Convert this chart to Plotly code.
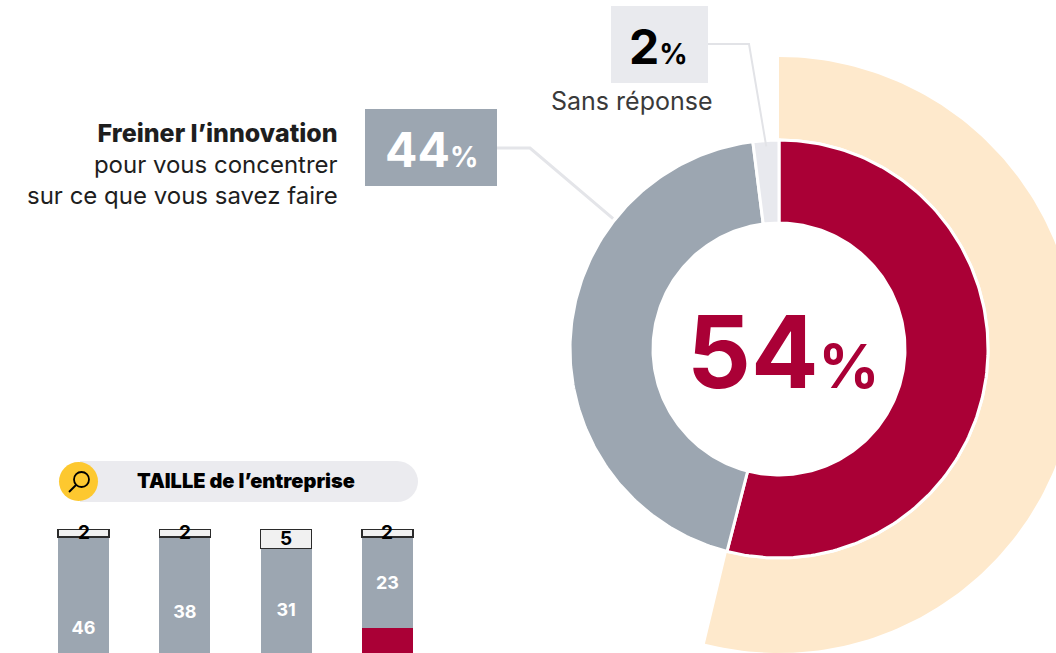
import numpy as np
import plotly.graph_objects as go

# Overall answers (percent)
answer_labels = ["Oui", "Freiner l’innovation", "Sans réponse"]
answer_values = [54, 44, 2]

# Breakdown by company size (percent, stacked bottom to top)
size_categories = ["TPE", "PME", "ETI", "GE"]
size_yes = [52, 60, 64, 75]
size_no = [46, 38, 31, 23]
size_none = [2, 2, 5, 2]

RED = "#aa0036"
GREY = "#9ca6b1"
LIGHT = "#e8e9ee"
PEACH = "#fee9cc"
FONT = "Inter, 'Open Sans', sans-serif"

# Donut geometry (canvas units = pixels)
CX, CY = 779, 349
R_HOLE, R_RING = 126, 209
R_HALO_IN, R_HALO_OUT, HALO_DY = 210.5, 298, 6


def sector(f0, f1, r_in, r_out, cy_out=CY, n=160):
    th = np.linspace(f0, f1, n) * 2 * np.pi
    xo = CX + r_out * np.sin(th)
    yo = cy_out - r_out * np.cos(th)
    xi = CX + r_in * np.sin(th[::-1])
    yi = CY - r_in * np.cos(th[::-1])
    x = np.concatenate([xo, xi, xo[:1]])
    y = np.concatenate([yo, yi, yo[:1]])
    return x, y


def polar_pt(frac, r):
    th = frac * 2 * np.pi
    return CX + r * np.sin(th), CY - r * np.cos(th)


fig = go.Figure()

# Outer highlight band for the "Oui" share
hx, hy = sector(0, answer_values[0] / 100, R_HALO_IN, R_HALO_OUT, cy_out=CY + HALO_DY)
fig.add_trace(go.Scatter(x=hx, y=hy, mode="lines", fill="toself", fillcolor=PEACH,
                         line=dict(width=0), hoverinfo="skip", showlegend=False))

# Donut slices
cum = np.concatenate([[0], np.cumsum(answer_values)]) / 100
for i, col in enumerate([RED, GREY, LIGHT]):
    sx, sy = sector(cum[i], cum[i + 1], R_HOLE, R_RING)
    fig.add_trace(go.Scatter(x=sx, y=sy, mode="lines", fill="toself", fillcolor=col,
                             line=dict(color="white", width=3), hoverinfo="skip",
                             name=answer_labels[i], showlegend=False))

# Leader lines
ex, ey = polar_pt((cum[2] + cum[3]) / 2, 203)
fig.add_trace(go.Scatter(x=[708, 749, ex], y=[44, 44, ey], mode="lines",
                         line=dict(color="#e2e3e7", width=2), hoverinfo="skip", showlegend=False))
gx, gy = polar_pt(0.856, 211)
fig.add_trace(go.Scatter(x=[497, 530, gx], y=[148, 148, gy], mode="lines",
                         line=dict(color="#e4e5e9", width=3), hoverinfo="skip", showlegend=False))

# Stacked bars by company size
fig.add_trace(go.Bar(x=size_categories, y=size_yes, marker=dict(color=RED, line=dict(width=0)),
                     xaxis="x2", yaxis="y2", textposition="none", showlegend=False))
fig.add_trace(go.Bar(x=size_categories, y=size_no, marker=dict(color=GREY, line=dict(width=0)),
                     xaxis="x2", yaxis="y2", text=size_no, textposition="inside",
                     insidetextanchor="middle", constraintext="none",
                     textfont=dict(color="white", size=18, family=FONT, weight="bold"),
                     showlegend=False))
fig.add_trace(go.Bar(x=size_categories, y=size_none,
                     marker=dict(color="#f1f1f1", line=dict(color="#2b2b2b", width=1.3)),
                     xaxis="x2", yaxis="y2", textposition="none", showlegend=False))

annotations = []
for cat, a, b, c in zip(size_categories, size_yes, size_no, size_none):
    annotations.append(dict(x=cat, y=a + b + c / 2, xref="x2", yref="y2", text=str(c),
                            showarrow=False, yanchor="middle",
                            font=dict(family=FONT, size=19, color="black", weight="bold")))

# Big centre figure
annotations.append(dict(x=CX + 4, y=CY + 2, xref="x", yref="y", showarrow=False,
                        text=f"{answer_values[0]}<span style='font-size:60px'>%</span>",
                        font=dict(family=FONT, size=100, color=RED, weight="bold"),
                        xanchor="center", yanchor="middle"))

# "Sans réponse" label box
annotations.append(dict(x=658, y=46, xref="x", yref="y", showarrow=False,
                        text=f"{answer_values[2]}<span style='font-size:28px'>%</span>",
                        font=dict(family=FONT, size=48, color="black", weight="bold"),
                        xanchor="center", yanchor="middle"))
annotations.append(dict(x=632, y=101, xref="x", yref="y", showarrow=False,
                        text="Sans réponse",
                        font=dict(family=FONT, size=25, color="#3a3a3a"),
                        xanchor="center", yanchor="middle"))

# "Freiner" label box
annotations.append(dict(x=431, y=149, xref="x", yref="y", showarrow=False,
                        text=f"{answer_values[1]}<span style='font-size:28px'>%</span>",
                        font=dict(family=FONT, size=48, color="white", weight="bold"),
                        xanchor="center", yanchor="middle"))
annotations.append(dict(x=340, y=164, xref="x", yref="y", showarrow=False, align="right",
                        text="<span style='font-size:25px;font-weight:800'>Freiner l’innovation</span>"
                             "<br>pour vous concentrer<br>sur ce que vous savez faire",
                        font=dict(family=FONT, size=24, color="#1e1e1e"),
                        xanchor="right", yanchor="middle"))

# Header pill title
annotations.append(dict(x=246, y=481, xref="x", yref="y", showarrow=False,
                        text="TAILLE de l’entreprise",
                        font=dict(family=FONT, size=20, color="black", weight=900),
                        xanchor="center", yanchor="middle"))

shapes = [
    dict(type="rect", x0=611, x1=708, y0=6, y1=83, xref="x", yref="y",
         fillcolor="#e9eaee", line=dict(width=0), layer="below"),
    dict(type="rect", x0=365, x1=497, y0=109, y1=186, xref="x", yref="y",
         fillcolor=GREY, line=dict(width=0), layer="below"),
    # pill
    dict(type="rect", x0=80, x1=397, y0=461, y1=502, xref="x", yref="y",
         fillcolor="#ebebef", line=dict(width=0), layer="below"),
    dict(type="circle", x0=376, x1=418, y0=461, y1=502, xref="x", yref="y",
         fillcolor="#ebebef", line=dict(width=0), layer="below"),
    dict(type="circle", x0=59, x1=98, y0=462, y1=501, xref="x", yref="y",
         fillcolor="#fdc82f", line=dict(width=0)),
    # magnifier icon
    dict(type="circle", x0=74, x1=89, y0=472, y1=487, xref="x", yref="y",
         fillcolor="rgba(0,0,0,0)", line=dict(color="black", width=1.8)),
    dict(type="line", x0=76, x1=69, y0=485, y1=492, xref="x", yref="y",
         line=dict(color="black", width=2)),
]

fig.update_layout(
    width=1056, height=653,
    margin=dict(l=0, r=0, t=0, b=0),
    paper_bgcolor="white", plot_bgcolor="rgba(0,0,0,0)",
    barmode="stack", bargap=0.497,
    xaxis=dict(range=[0, 1056], visible=False, domain=[0, 1], fixedrange=True),
    yaxis=dict(range=[653, 0], visible=False, domain=[0, 1], fixedrange=True),
    xaxis2=dict(domain=[32.85 / 1056, 438.15 / 1056], anchor="y2", visible=False),
    yaxis2=dict(domain=[0, 1 - 529 / 653], range=[100 - 124 / 3.95, 100], anchor="x2", visible=False),
    annotations=annotations, shapes=shapes,
    showlegend=False,
)

fig.write_html("out.html")
